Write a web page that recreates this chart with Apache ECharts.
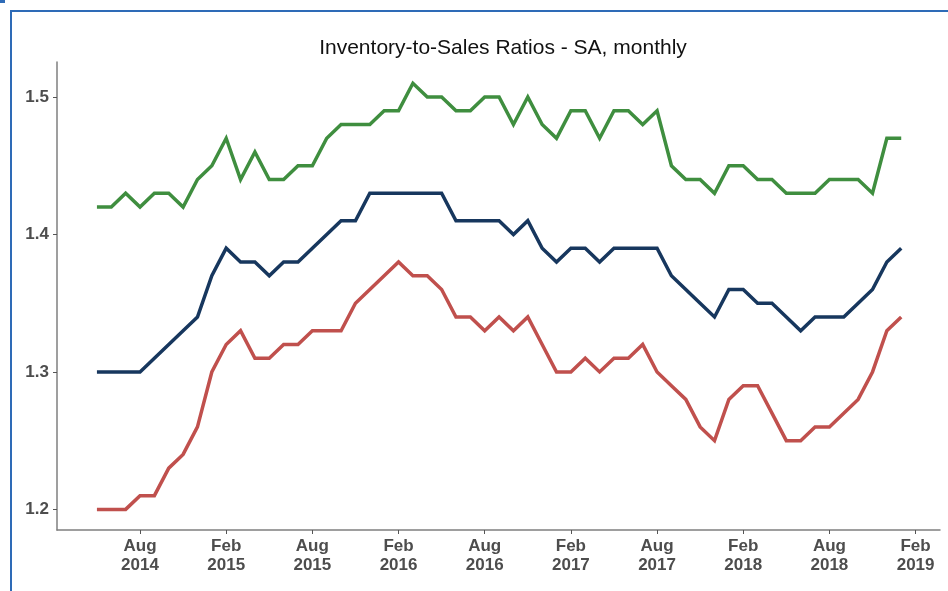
<!DOCTYPE html>
<html>
<head>
<meta charset="utf-8">
<script src="https://cdn.jsdelivr.net/npm/echarts@6/dist/echarts.min.js"></script>
<style>
  html, body { margin: 0; padding: 0; background: #fff; }
  #frame {
    position: absolute; left: 10px; top: 10px; width: 960px; height: 600px;
    border-left: 2px solid #2e6bb7; border-top: 2px solid #2e6bb7;
  }
  #corner { position: absolute; left: 0; top: 0; width: 5px; height: 3px; background: #2e6bb7; }
  #chart { position: absolute; left: 0; top: 0; width: 948px; height: 591px; }
</style>
</head>
<body>
<div id="frame"></div>
<div id="corner"></div>
<div id="chart"></div>
<script>
// monthly, May 2014 .. Jan 2019
const startYear = 2014
const startMonth = 5
const monthNames = ['Jan', 'Feb', 'Mar', 'Apr', 'May', 'Jun', 'Jul', 'Aug', 'Sep', 'Oct', 'Nov', 'Dec']

const greenSeries = [
  1.42, 1.42, 1.43, 1.42, 1.43, 1.43, 1.42, 1.44,
  1.45, 1.47, 1.44, 1.46, 1.44, 1.44, 1.45, 1.45, 1.47, 1.48, 1.48, 1.48,
  1.49, 1.49, 1.51, 1.50, 1.50, 1.49, 1.49, 1.50, 1.50, 1.48, 1.50, 1.48,
  1.47, 1.49, 1.49, 1.47, 1.49, 1.49, 1.48, 1.49, 1.45, 1.44, 1.44, 1.43,
  1.45, 1.45, 1.44, 1.44, 1.43, 1.43, 1.43, 1.44, 1.44, 1.44, 1.43, 1.47,
  1.47
]
const navySeries = [
  1.30, 1.30, 1.30, 1.30, 1.31, 1.32, 1.33, 1.34,
  1.37, 1.39, 1.38, 1.38, 1.37, 1.38, 1.38, 1.39, 1.40, 1.41, 1.41, 1.43,
  1.43, 1.43, 1.43, 1.43, 1.43, 1.41, 1.41, 1.41, 1.41, 1.40, 1.41, 1.39,
  1.38, 1.39, 1.39, 1.38, 1.39, 1.39, 1.39, 1.39, 1.37, 1.36, 1.35, 1.34,
  1.36, 1.36, 1.35, 1.35, 1.34, 1.33, 1.34, 1.34, 1.34, 1.35, 1.36, 1.38,
  1.39
]
const redSeries = [
  1.20, 1.20, 1.20, 1.21, 1.21, 1.23, 1.24, 1.26,
  1.30, 1.32, 1.33, 1.31, 1.31, 1.32, 1.32, 1.33, 1.33, 1.33, 1.35, 1.36,
  1.37, 1.38, 1.37, 1.37, 1.36, 1.34, 1.34, 1.33, 1.34, 1.33, 1.34, 1.32,
  1.30, 1.30, 1.31, 1.30, 1.31, 1.31, 1.32, 1.30, 1.29, 1.28, 1.26, 1.25,
  1.28, 1.29, 1.29, 1.27, 1.25, 1.25, 1.26, 1.26, 1.27, 1.28, 1.30, 1.33,
  1.34
]

// x tick months (index counted from Jan 2014 = 0)
const xTicks = [7, 13, 19, 25, 31, 37, 43, 49, 55, 61]
const yTicks = [1.2, 1.3, 1.4, 1.5]

const offset = (startYear - 2014) * 12 + (startMonth - 1)
const toPoints = (arr) => arr.map((v, i) => [offset + i, v])

const monthLabel = (m) => monthNames[m % 12] + '\n' + (2014 + Math.floor(m / 12))

const lineStyle = (color) => ({ color: color, width: 3.5, cap: 'butt', join: 'miter' })

const labelFont = {
  fontFamily: 'Liberation Sans',
  fontSize: 17,
  fontWeight: 'bold',
  color: '#4d4d4d'
}

const chart = echarts.init(document.getElementById('chart'))
chart.setOption({
  animation: false,
  title: {
    text: 'Inventory-to-Sales Ratios - SA, monthly',
    left: 498,
    textAlign: 'center',
    top: 33,
    textStyle: { fontFamily: 'Liberation Sans', fontSize: 21, fontWeight: 'normal', color: '#111' }
  },
  grid: { left: 57, right: 8, top: 62, bottom: 61 },
  xAxis: {
    type: 'value',
    min: 1.22,
    max: 62.7,
    splitLine: { show: false },
    axisLine: { lineStyle: { color: '#7f7f7f', width: 1.5 } },
    axisTick: { customValues: xTicks, length: 4, lineStyle: { color: '#555' } },
    axisLabel: Object.assign({
      customValues: xTicks,
      formatter: (v) => monthLabel(v),
      lineHeight: 19,
      margin: 7
    }, labelFont)
  },
  yAxis: {
    type: 'value',
    min: 1.185,
    max: 1.5255,
    splitLine: { show: false },
    axisLine: { show: true, lineStyle: { color: '#7f7f7f', width: 1.5 } },
    axisTick: { show: true, customValues: yTicks, length: 4, lineStyle: { color: '#555' } },
    axisLabel: Object.assign({
      customValues: yTicks,
      formatter: (v) => v.toFixed(1),
      margin: 8
    }, labelFont)
  },
  series: [
    { name: 'Green', type: 'line', data: toPoints(greenSeries), showSymbol: false, lineStyle: lineStyle('#3f8e3f') },
    { name: 'Navy', type: 'line', data: toPoints(navySeries), showSymbol: false, lineStyle: lineStyle('#17375e') },
    { name: 'Red', type: 'line', data: toPoints(redSeries), showSymbol: false, lineStyle: lineStyle('#c0504d') }
  ]
})
</script>
</body>
</html>
